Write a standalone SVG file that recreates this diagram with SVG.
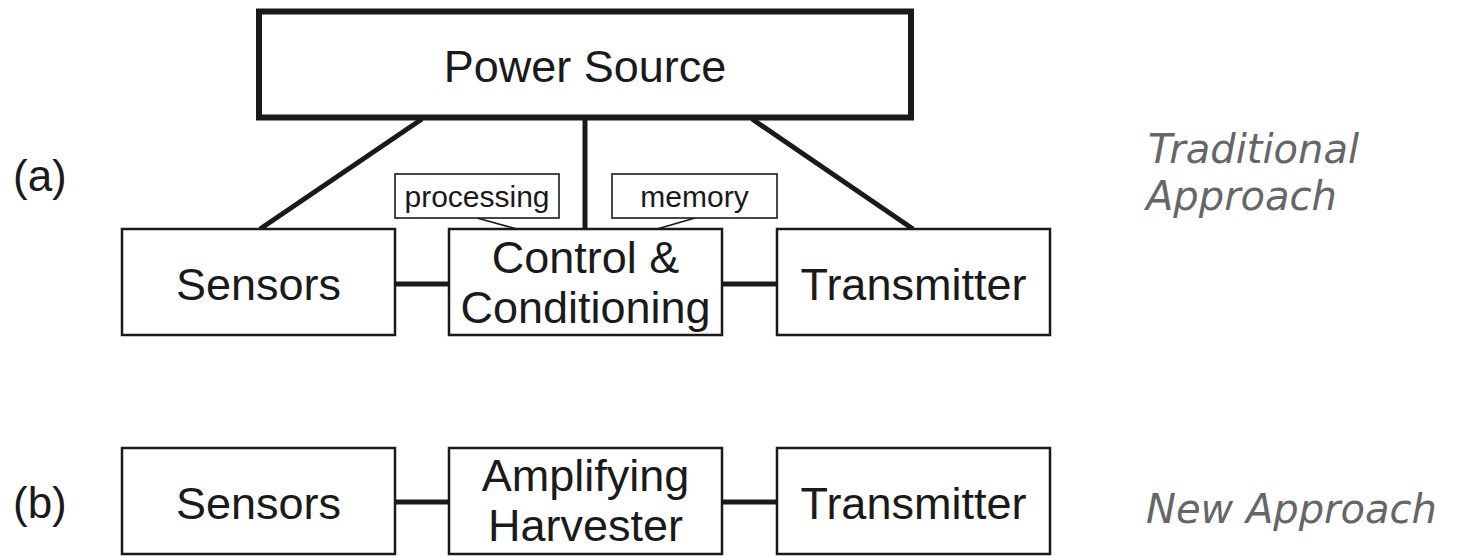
<svg xmlns="http://www.w3.org/2000/svg" width="1466" height="556" viewBox="0 0 1466 556">
<style>
.box{fill:#fff;stroke:#1a1a1a;stroke-width:2.5}
.big{fill:#fff;stroke:#1a1a1a;stroke-width:6}
.small{fill:#fff;stroke:#1a1a1a;stroke-width:1.6}
.lbl{font-family:"Liberation Sans",Arial,sans-serif;font-size:45px;fill:#1a1a1a;text-anchor:middle}
.sm{font-family:"Liberation Sans",Arial,sans-serif;font-size:30px;fill:#1a1a1a;text-anchor:middle}
.tag{font-family:"Liberation Sans",Arial,sans-serif;font-size:44px;fill:#1a1a1a}
.note{font-family:"DejaVu Sans",Verdana,sans-serif;font-style:italic;font-size:40px;fill:#666}
.conn{stroke:#1a1a1a;stroke-width:5;fill:none}
.thin{stroke:#1a1a1a;stroke-width:1.6;fill:none}
</style>
<rect width="1466" height="556" fill="#fff"/>
<g id="connectors">
<line class="conn" x1="422" y1="119" x2="260" y2="229"/>
<line class="conn" x1="585" y1="119" x2="585" y2="229"/>
<line class="conn" x1="752" y1="119" x2="913" y2="229"/>
<line class="conn" x1="395" y1="284" x2="449" y2="284"/>
<line class="conn" x1="722" y1="284" x2="777" y2="284"/>
<line class="thin" x1="477" y1="218" x2="517" y2="229"/>
<line class="thin" x1="695" y1="218" x2="657" y2="229"/>
<line class="conn" x1="395" y1="502" x2="449" y2="502"/>
<line class="conn" x1="722" y1="502" x2="777" y2="502"/>
</g>
<g id="power-source">
<rect class="big" x="259" y="11.5" width="652" height="106"/>
<text class="lbl" x="585" y="82">Power Source</text>
</g>
<g id="label-a"><text class="tag" x="13" y="191">(a)</text></g>
<g id="label-b"><text class="tag" x="13" y="518">(b)</text></g>
<g id="processing">
<rect class="small" x="395" y="174" width="164" height="44"/>
<text class="sm" x="477" y="207">processing</text>
</g>
<g id="memory">
<rect class="small" x="612" y="174" width="165" height="44"/>
<text class="sm" x="694.5" y="207">memory</text>
</g>
<g id="sensors-a">
<rect class="box" x="122" y="229" width="273" height="106"/>
<text class="lbl" x="258.5" y="300">Sensors</text>
</g>
<g id="control">
<rect class="box" x="449" y="229" width="273" height="106"/>
<text class="lbl" x="585.5" y="273">Control &amp;</text>
<text class="lbl" x="585.5" y="323">Conditioning</text>
</g>
<g id="transmitter-a">
<rect class="box" x="777" y="229" width="273" height="106"/>
<text class="lbl" x="913.5" y="300">Transmitter</text>
</g>
<g id="sensors-b">
<rect class="box" x="122" y="448" width="273" height="106"/>
<text class="lbl" x="258.5" y="519">Sensors</text>
</g>
<g id="harvester">
<rect class="box" x="449" y="448" width="273" height="106"/>
<text class="lbl" x="585.5" y="491">Amplifying</text>
<text class="lbl" x="585.5" y="541">Harvester</text>
</g>
<g id="transmitter-b">
<rect class="box" x="777" y="448" width="273" height="106"/>
<text class="lbl" x="913.5" y="519">Transmitter</text>
</g>
<g id="traditional-note">
<text class="note" x="1148" y="163">Traditional</text>
<text class="note" x="1146" y="210">Approach</text>
</g>
<g id="new-note">
<text class="note" x="1146" y="523">New Approach</text>
</g>
</svg>
